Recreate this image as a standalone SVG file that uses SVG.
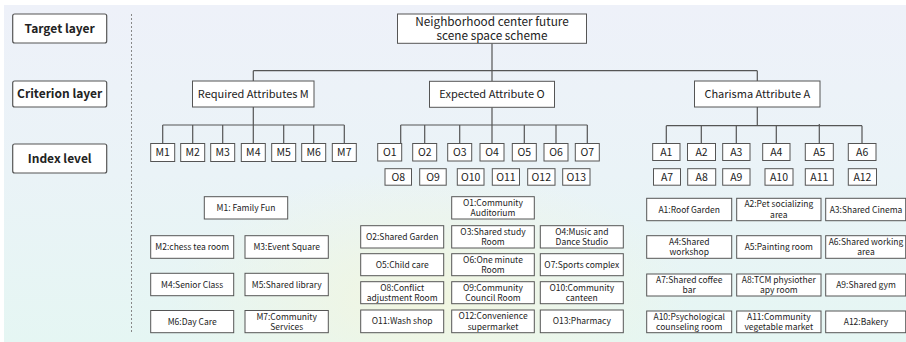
<svg xmlns="http://www.w3.org/2000/svg" width="906" height="342" viewBox="0 0 906 342">
<defs>
<linearGradient id="bg" x1="0" y1="0" x2="0" y2="1">
<stop offset="0" stop-color="#eef1f9"/>
<stop offset="0.5" stop-color="#eaf3f7"/>
<stop offset="1" stop-color="#e5f6f3"/>
</linearGradient>
<radialGradient id="gl" cx="430" cy="300" r="260" gradientUnits="userSpaceOnUse" gradientTransform="translate(430 300) scale(1 0.5) translate(-430 -300)">
<stop offset="0" stop-color="#f2f6df" stop-opacity="0.95"/>
<stop offset="1" stop-color="#f2f6df" stop-opacity="0"/>
</radialGradient>
<style>
.b{fill:#fff;stroke:#555;stroke-width:1}
.l{fill:#fff;stroke:#555;stroke-width:1.2}
.c{fill:none;stroke:#555;stroke-width:1.2}
text{font-family:"Noto Sans CJK SC","Noto Sans",sans-serif;fill:#222;text-anchor:middle}
.h{font-size:12px;font-weight:bold}
.g{font-size:11.8px}
.m{font-size:11px}
.s{font-size:10.5px}
.x{font-size:8.5px}
</style>
</defs>
<rect x="0" y="0" width="906" height="342" fill="#fff"/>
<rect x="4" y="5" width="902" height="337" fill="url(#bg)"/>
<rect x="4" y="5" width="902" height="337" fill="url(#gl)"/>
<line x1="131.5" y1="14" x2="131.5" y2="333" stroke="#888" stroke-width="1" stroke-dasharray="2,2"/>

<g id="layers">
<g id="layer-target"><rect class="l" x="12.7" y="14" width="94" height="29" rx="2"/><text class="h" x="59.7" y="32.7">Target layer</text></g>
<g id="layer-criterion"><rect class="l" x="12.7" y="81" width="94" height="26" rx="2"/><text class="h" x="59.7" y="98.3">Criterion layer</text></g>
<g id="layer-index"><rect class="l" x="12.7" y="144" width="94" height="29" rx="2"/><text class="h" x="59.7" y="162.7">Index level</text></g>
</g>

<g id="connectors">
<path class="c" d="M492 43.3V81.3M253.3 70.7H757.3M253.3 70.7V81M757.3 70.7V81"/>
<path class="c" d="M253.3 107V125M162.7 125H344.3M162.7 125V143.5M192.7 125V143.5M222.7 125V143.5M253.3 125V143.5M283.7 125V143.5M313.7 125V143.5M344.3 125V143.5"/>
<path class="c" d="M492 107.3V125M400.7 125H587.3M400.7 125V143.5M424.7 125V143.5M459.7 125V143.5M492 125V143.5M524.3 125V143.5M556 125V143.5M587.3 125V143.5"/>
<path class="c" d="M757.3 107V125.7M666.3 125.7H862M666.3 125.7V143.5M701.3 125.7V143.5M736.3 125.7V143.5M776.3 125.7V143.5M819.3 124V143.5M862 125.7V143.5"/>
</g>

<g id="target"><rect class="b" x="397.5" y="14" width="189" height="29.3"/><text class="g" x="492" y="25.5">Neighborhood center future</text><text class="g" x="492" y="39.8">scene space scheme</text></g>

<g id="crit-M"><rect class="b" x="192.5" y="81" width="121.5" height="26"/><text class="m" x="253.3" y="98">Required Attributes M</text></g>
<g id="crit-O"><rect class="b" x="429.5" y="81.3" width="125" height="26"/><text class="m" x="492" y="98.2">Expected Attribute O</text></g>
<g id="crit-A"><rect class="b" x="694.5" y="81" width="125.5" height="26"/><text class="m" x="757.3" y="98">Charisma Attribute A</text></g>

<g id="idx-M1"><rect class="b" x="150.7" y="143.5" width="24" height="18"/><text class="s" x="162.7" y="156.3">M1</text></g>
<g id="idx-M2"><rect class="b" x="180.7" y="143.5" width="24" height="18"/><text class="s" x="192.7" y="156.3">M2</text></g>
<g id="idx-M3"><rect class="b" x="210.7" y="143.5" width="24" height="18"/><text class="s" x="222.7" y="156.3">M3</text></g>
<g id="idx-M4"><rect class="b" x="241.3" y="143.5" width="24" height="18"/><text class="s" x="253.3" y="156.3">M4</text></g>
<g id="idx-M5"><rect class="b" x="271.7" y="143.5" width="24" height="18"/><text class="s" x="283.7" y="156.3">M5</text></g>
<g id="idx-M6"><rect class="b" x="301.7" y="143.5" width="24" height="18"/><text class="s" x="313.7" y="156.3">M6</text></g>
<g id="idx-M7"><rect class="b" x="332.3" y="143.5" width="24" height="18"/><text class="s" x="344.3" y="156.3">M7</text></g>

<g id="idx-O1"><rect class="b" x="377.7" y="143.5" width="24" height="17.5"/><text class="s" x="389.7" y="156">O1</text></g>
<g id="idx-O2"><rect class="b" x="412.7" y="143.5" width="24" height="17.5"/><text class="s" x="424.7" y="156">O2</text></g>
<g id="idx-O3"><rect class="b" x="447.7" y="143.5" width="24" height="17.5"/><text class="s" x="459.7" y="156">O3</text></g>
<g id="idx-O4"><rect class="b" x="480" y="143.5" width="24" height="17.5"/><text class="s" x="492" y="156">O4</text></g>
<g id="idx-O5"><rect class="b" x="512.3" y="143.5" width="24" height="17.5"/><text class="s" x="524.3" y="156">O5</text></g>
<g id="idx-O6"><rect class="b" x="544" y="143.5" width="24" height="17.5"/><text class="s" x="556" y="156">O6</text></g>
<g id="idx-O7"><rect class="b" x="575.3" y="143.5" width="24" height="17.5"/><text class="s" x="587.3" y="156">O7</text></g>
<g id="idx-O8"><rect class="b" x="385" y="168.7" width="26.5" height="16.5"/><text class="s" x="398.2" y="180.7">O8</text></g>
<g id="idx-O9"><rect class="b" x="419.7" y="168.7" width="26.5" height="16.5"/><text class="s" x="433" y="180.7">O9</text></g>
<g id="idx-O10"><rect class="b" x="457.3" y="168.7" width="26.7" height="16.5"/><text class="s" x="470.7" y="180.7">O10</text></g>
<g id="idx-O11"><rect class="b" x="492.3" y="168.7" width="27.2" height="16.5"/><text class="s" x="505.9" y="180.7">O11</text></g>
<g id="idx-O12"><rect class="b" x="527.7" y="168.7" width="27.3" height="16.5"/><text class="s" x="541.3" y="180.7">O12</text></g>
<g id="idx-O13"><rect class="b" x="562.7" y="168.7" width="27.3" height="16.5"/><text class="s" x="576.3" y="180.7">O13</text></g>

<g id="idx-A1"><rect class="b" x="652.7" y="143.5" width="27.3" height="17"/><text class="s" x="666.3" y="156">A1</text></g>
<g id="idx-A2"><rect class="b" x="687.5" y="143.5" width="28" height="17"/><text class="s" x="701.5" y="156">A2</text></g>
<g id="idx-A3"><rect class="b" x="722.7" y="143.5" width="27.3" height="17"/><text class="s" x="736.3" y="156">A3</text></g>
<g id="idx-A4"><rect class="b" x="762.7" y="143.5" width="27.3" height="17"/><text class="s" x="776.3" y="156">A4</text></g>
<g id="idx-A5"><rect class="b" x="805.3" y="143.5" width="28" height="17"/><text class="s" x="819.3" y="156">A5</text></g>
<g id="idx-A6"><rect class="b" x="848.3" y="143.5" width="27.7" height="17"/><text class="s" x="862.2" y="156">A6</text></g>
<g id="idx-A7"><rect class="b" x="653.5" y="168.7" width="27" height="16.5"/><text class="s" x="667" y="180.7">A7</text></g>
<g id="idx-A8"><rect class="b" x="687.7" y="168.7" width="28" height="16.5"/><text class="s" x="701.7" y="180.7">A8</text></g>
<g id="idx-A9"><rect class="b" x="722.7" y="168.7" width="27.3" height="16.5"/><text class="s" x="736.3" y="180.7">A9</text></g>
<g id="idx-A10"><rect class="b" x="765" y="168.7" width="28" height="16.5"/><text class="s" x="779" y="180.7">A10</text></g>
<g id="idx-A11"><rect class="b" x="805.3" y="168.7" width="28" height="16.5"/><text class="s" x="819.3" y="180.7">A11</text></g>
<g id="idx-A12"><rect class="b" x="848.3" y="168.7" width="28.2" height="16.5"/><text class="s" x="862.4" y="180.7">A12</text></g>

<g id="M1"><rect class="b" x="204.3" y="196.7" width="83.4" height="22.3"/><text class="x" x="246" y="210.9">M1: Family Fun</text></g>
<g id="M2"><rect class="b" x="150.7" y="235.7" width="83" height="22.6"/><text class="x" x="192.2" y="250">M2:chess tea room</text></g>
<g id="M3"><rect class="b" x="245" y="235.7" width="83.3" height="22.6"/><text class="x" x="286.7" y="250">M3:Event Square</text></g>
<g id="M4"><rect class="b" x="150.7" y="273.3" width="83" height="22.4"/><text class="x" x="192.2" y="287.5">M4:Senior Class</text></g>
<g id="M5"><rect class="b" x="245" y="273.3" width="83.3" height="22.4"/><text class="x" x="286.7" y="287.5">M5:Shared library</text></g>
<g id="M6"><rect class="b" x="150.7" y="310.5" width="83" height="22.2"/><text class="x" x="192.2" y="324.6">M6:Day Care</text></g>
<g id="M7"><rect class="b" x="245" y="310.5" width="83.3" height="22.2"/><text class="x" x="286.7" y="319.6">M7:Community</text><text class="x" x="286.7" y="329.8">Services</text></g>

<g id="O1"><rect class="b" x="451.7" y="196.7" width="82.6" height="22.3"/><text class="x" x="493" y="205.8">O1:Community</text><text class="x" x="493" y="216">Auditorium</text></g>
<g id="O2"><rect class="b" x="360.7" y="225.7" width="83" height="22.3"/><text class="x" x="402.2" y="239.9">O2:Shared Garden</text></g>
<g id="O3"><rect class="b" x="451.7" y="225.7" width="82.6" height="22.3"/><text class="x" x="493" y="234.8">O3:Shared study</text><text class="x" x="493" y="245">Room</text></g>
<g id="O4"><rect class="b" x="540.3" y="225.7" width="83" height="22.3"/><text class="x" x="581.8" y="234.8">O4:Music and</text><text class="x" x="581.8" y="245">Dance Studio</text></g>
<g id="O5"><rect class="b" x="360.7" y="253.7" width="83" height="22"/><text class="x" x="402.2" y="267.7">O5:Child care</text></g>
<g id="O6"><rect class="b" x="451.7" y="253.7" width="82.6" height="22"/><text class="x" x="493" y="262.8">O6:One minute</text><text class="x" x="493" y="273">Room</text></g>
<g id="O7"><rect class="b" x="540.3" y="253.7" width="83" height="22"/><text class="x" x="581.8" y="267.7">O7:Sports complex</text></g>
<g id="O8"><rect class="b" x="360.7" y="281.7" width="83" height="22"/><text class="x" x="402.2" y="290.8">O8:Conflict</text><text class="x" x="402.2" y="301">adjustment Room</text></g>
<g id="O9"><rect class="b" x="451.7" y="281.7" width="82.6" height="22"/><text class="x" x="493" y="290.8">O9:Community</text><text class="x" x="493" y="301">Council Room</text></g>
<g id="O10"><rect class="b" x="540.3" y="281.7" width="83" height="22"/><text class="x" x="581.8" y="290.8">O10:Community</text><text class="x" x="581.8" y="301">canteen</text></g>
<g id="O11"><rect class="b" x="360.7" y="310" width="83" height="22.7"/><text class="x" x="402.2" y="324.3">O11:Wash shop</text></g>
<g id="O12"><rect class="b" x="451.7" y="310" width="82.6" height="22.7"/><text class="x" x="493" y="319.3">O12:Convenience</text><text class="x" x="493" y="329.5">supermarket</text></g>
<g id="O13"><rect class="b" x="540.3" y="310" width="83" height="22.7"/><text class="x" x="581.8" y="324.3">O13:Pharmacy</text></g>

<g id="A1"><rect class="b" x="646.7" y="198.3" width="85" height="22.4"/><text class="x" x="689.2" y="212.5">A1:Roof Garden</text></g>
<g id="A2"><rect class="b" x="736.7" y="198.3" width="84.3" height="22.4"/><text class="x" x="778.8" y="207.4">A2:Pet socializing</text><text class="x" x="778.8" y="217.6">area</text></g>
<g id="A3"><rect class="b" x="825.7" y="198.3" width="80" height="22.4"/><text class="x" x="866" y="212.5">A3:Shared Cinema</text></g>
<g id="A4"><rect class="b" x="646.7" y="235.7" width="85" height="22.6"/><text class="x" x="689.2" y="244.8">A4:Shared</text><text class="x" x="689.2" y="255">workshop</text></g>
<g id="A5"><rect class="b" x="736.7" y="235.7" width="84.3" height="22.6"/><text class="x" x="778.8" y="250">A5:Painting room</text></g>
<g id="A6"><rect class="b" x="825.7" y="235.7" width="80" height="22.6"/><text class="x" x="866" y="244.8">A6:Shared working</text><text class="x" x="866" y="255">area</text></g>
<g id="A7"><rect class="b" x="646.7" y="274" width="85" height="22"/><text class="x" x="689.2" y="282.8">A7:Shared coffee</text><text class="x" x="689.2" y="293">bar</text></g>
<g id="A8"><rect class="b" x="736.7" y="274" width="84.3" height="22"/><text class="x" x="778.8" y="282.8">A8:TCM physiother</text><text class="x" x="778.8" y="293">apy room</text></g>
<g id="A9"><rect class="b" x="825.7" y="274" width="80" height="22"/><text class="x" x="866" y="288">A9:Shared gym</text></g>
<g id="A10"><rect class="b" x="646.7" y="311" width="85" height="21.7"/><text class="x" x="689.2" y="319.8">A10:Psychological</text><text class="x" x="689.2" y="330">counseling room</text></g>
<g id="A11"><rect class="b" x="736.7" y="311" width="84.3" height="21.7"/><text class="x" x="778.8" y="319.8">A11:Community</text><text class="x" x="778.8" y="330">vegetable market</text></g>
<g id="A12"><rect class="b" x="825.7" y="311" width="80" height="21.7"/><text class="x" x="866" y="325">A12:Bakery</text></g>
</svg>
